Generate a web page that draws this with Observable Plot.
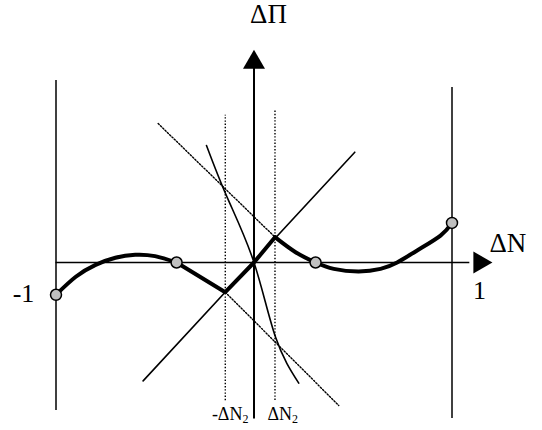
<!DOCTYPE html>
<html>
<head>
<meta charset="utf-8">
<script src="https://cdn.jsdelivr.net/npm/d3@7"></script>
<script src="https://cdn.jsdelivr.net/npm/@observablehq/plot@0.6"></script>
<style>
  html, body { margin: 0; padding: 0; background: #fff; }
  #chart svg { display: block; }
</style>
</head>
<body>
<div id="chart"></div>
<script>
// Thick characteristic curve: smooth left part, broken-line middle part, smooth right part
const leftCurveX = [-1, -0.9, -0.8, -0.7, -0.6, -0.5, -0.391];
const leftCurveY = [-0.163, -0.072, -0.012, 0.024, 0.039, 0.032, 0];
const midLineX = [-0.391, -0.145, 0, 0.106];
const midLineY = [0, -0.150, 0, 0.128];
const rightCurveX = [0.106, 0.210, 0.311, 0.403, 0.529, 0.639, 0.723, 0.824, 0.942, 1];
const rightCurveY = [0.128, 0.052, 0, -0.032, -0.045, -0.032, 0, 0.061, 0.136, 0.200];

// Marked (grey) points
const pointX = [-1, -0.391, 0.311, 1];
const pointY = [-0.163, 0, 0, 0.200];

// Thin steep curve through origin
const steepX = [-0.240, -0.136, 0, 0.109, 0.226];
const steepY = [0.591, 0.330, 0, -0.378, -0.609];

// Thin diagonal line through origin
const diagX = [-0.560, 0.509];
const diagY = [-0.598, 0.557];

// Dotted slanted lines
const dotUpperX = [-0.484, 0.106];
const dotUpperY = [0.702, 0.128];
const dotLowerX = [-0.145, 0.428];
const dotLowerY = [-0.150, -0.722];

// Dotted vertical lines at -ΔN2 and ΔN2
const dotVertX = [-0.145, 0.106];
const dotVertTop = [0.744, 0.770];
const dotVertBottom = [-0.698, -0.697];

// Solid bounding verticals at -1 and 1
const boundX = [-1, 1];
const boundTop = [0.919, 0.884];
const boundBottom = [-0.747, -0.788];

// Axes extents and arrow heads
const xAxisFrom = -1, xAxisTo = 1.09;
const yAxisFrom = -0.79, yAxisTo = 0.98;
const arrowX = [0, 1.140];
const arrowY = [1.010, 0];
const arrowRot = [0, 90];

// Labels
const bigLabels = ["ΔΠ", "ΔN"];
const bigLabelX = [0.073, 1.189];
const bigLabelY = [1.253, 0.096];
const bigLabelAnchor = ["middle", "start"];
const tickLabels = ["1", "-1"];
const tickLabelX = [1.139, -1.164];
const tickLabelY = [-0.144, -0.157];
const smallLabels = ["-ΔN₂", "ΔN₂"];
const smallLabelX = [-0.028, 0.068];
const smallLabelY = [-0.765, -0.765];

const zipXY = (xs, ys) => xs.map((x, i) => ({x, y: ys[i]}));
const dotted = {stroke: "#000", strokeWidth: 1.4, strokeDasharray: "1.4,1.8"};

const chart = Plot.plot({
  width: 542,
  height: 430,
  margin: 0,
  style: {fontFamily: "'Liberation Serif', 'Times New Roman', serif", background: "#fff", overflow: "visible"},
  x: {type: "linear", domain: [-1, 1], range: [55.5, 451.5], axis: null},
  y: {type: "linear", domain: [-1, 1], range: [460, 64], axis: null},
  marks: [
    // bounding verticals
    Plot.ruleX(boundX.map((x, i) => ({x, y1: boundBottom[i], y2: boundTop[i]})),
      {x: "x", y1: "y1", y2: "y2", stroke: "#000", strokeWidth: 1.5}),
    // dotted verticals
    Plot.ruleX(dotVertX.map((x, i) => ({x, y1: dotVertBottom[i], y2: dotVertTop[i]})),
      {x: "x", y1: "y1", y2: "y2", ...dotted}),
    // axes
    Plot.ruleY([0], {x1: xAxisFrom, x2: xAxisTo, stroke: "#000", strokeWidth: 1.5}),
    Plot.ruleX([0], {y1: yAxisFrom, y2: yAxisTo, stroke: "#000", strokeWidth: 2}),
    Plot.dot(arrowX.map((x, i) => ({x, y: arrowY[i], r: arrowRot[i]})),
      {x: "x", y: "y", rotate: "r", symbol: "triangle2", r: 10.5, fill: "#000", stroke: "none"}),
    // dotted slanted lines
    Plot.line(zipXY(dotUpperX, dotUpperY), {x: "x", y: "y", ...dotted}),
    Plot.line(zipXY(dotLowerX, dotLowerY), {x: "x", y: "y", ...dotted}),
    // thin lines
    Plot.line(zipXY(diagX, diagY), {x: "x", y: "y", stroke: "#000", strokeWidth: 1.6}),
    Plot.line(zipXY(steepX, steepY), {x: "x", y: "y", curve: "natural", stroke: "#000", strokeWidth: 1.6}),
    // thick curve
    Plot.line(zipXY(leftCurveX, leftCurveY), {x: "x", y: "y", curve: "natural", stroke: "#000", strokeWidth: 4, strokeLinecap: "round"}),
    Plot.line(zipXY(midLineX, midLineY), {x: "x", y: "y", curve: "linear", stroke: "#000", strokeWidth: 4, strokeLinejoin: "miter", strokeLinecap: "round"}),
    Plot.line(zipXY(rightCurveX, rightCurveY), {x: "x", y: "y", curve: "natural", stroke: "#000", strokeWidth: 4, strokeLinecap: "round"}),
    // grey points
    Plot.dot(zipXY(pointX, pointY), {x: "x", y: "y", r: 5.5, fill: "#c0c0c0", stroke: "#000", strokeWidth: 1.5}),
    // labels
    Plot.text(zipXY(bigLabelX, bigLabelY).map((d, i) => ({...d, t: bigLabels[i], a: bigLabelAnchor[i]})).filter(d => d.a === "middle"),
      {x: "x", y: "y", text: "t", textAnchor: "middle", fontSize: 27, fill: "#000"}),
    Plot.text(zipXY(bigLabelX, bigLabelY).map((d, i) => ({...d, t: bigLabels[i], a: bigLabelAnchor[i]})).filter(d => d.a === "start"),
      {x: "x", y: "y", text: "t", textAnchor: "start", fontSize: 27, fill: "#000"}),
    Plot.text(zipXY(tickLabelX, tickLabelY).map((d, i) => ({...d, t: tickLabels[i]})),
      {x: "x", y: "y", text: "t", textAnchor: "middle", fontSize: 26, fill: "#000"}),
    Plot.text(zipXY(smallLabelX, smallLabelY).map((d, i) => ({...d, t: smallLabels[i]})).filter(d => d.t.startsWith("-")),
      {x: "x", y: "y", text: "t", textAnchor: "end", fontSize: 18, fill: "#000"}),
    Plot.text(zipXY(smallLabelX, smallLabelY).map((d, i) => ({...d, t: smallLabels[i]})).filter(d => !d.t.startsWith("-")),
      {x: "x", y: "y", text: "t", textAnchor: "start", fontSize: 18, fill: "#000"})
  ]
});

// Render the "₂" as a real subscript tspan
d3.select(chart).selectAll("text").each(function() {
  const s = this.textContent;
  if (s.endsWith("₂")) {
    const el = d3.select(this);
    el.text(s.slice(0, -1));
    el.append("tspan").attr("font-size", "12").attr("dy", "0.25em").text("2");
  }
});

document.getElementById("chart").appendChild(chart);
</script>
</body>
</html>
